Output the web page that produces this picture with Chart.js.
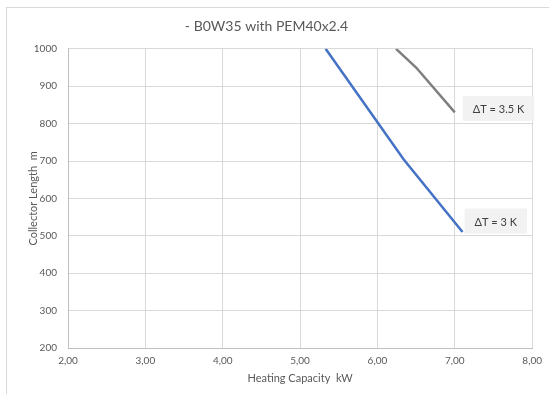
<!DOCTYPE html>
<html>
<head>
<meta charset="utf-8">
<title>B0W35 with PEM40x2.4</title>
<script src="https://cdn.jsdelivr.net/npm/chart.js@4.4.1/dist/chart.umd.min.js"></script>
<style>
    html, body { margin: 0; padding: 0; background: #fff; }
    #wrap { width: 549px; height: 394px; }
</style>
</head>
<body>
<div id="wrap"><canvas id="collector-chart" width="549" height="394"></canvas></div>
<script>
(function () {
    "use strict";

    // Data
    var capacity3K = [5.33, 6.34, 7.1];
    var length3K = [1000, 704, 510];
    var capacity35K = [6.24, 6.5, 7.0];
    var length35K = [1000, 950, 830];
    var seriesLabels = ["\u0394T = 3 K", "\u0394T = 3.5 K"];
    var xTicks = [2, 3, 4, 5, 6, 7, 8];
    var yTicks = [200, 300, 400, 500, 600, 700, 800, 900, 1000];

    var fontName = "Lato, 'Open Sans', sans-serif";
    var textGrey = "#595959";

    function toPoints(xs, ys) {
        return xs.map(function (x, i) {
            return { x: x, y: ys[i] };
        });
    }

    // outer chart frame (runs off the right/bottom edge like the reference)
    var framePlugin = {
        id: "frame",
        beforeDraw: function (chart) {
            var ctx = chart.ctx;
            ctx.save();
            ctx.strokeStyle = "#d9d9d9";
            ctx.lineWidth = 1;
            ctx.strokeRect(6.5, 7.5, 700, 500);
            ctx.restore();
        }
    };

    // boxed label next to the last point of every series
    var endLabelPlugin = {
        id: "endLabels",
        afterDatasetsDraw: function (chart) {
            var ctx = chart.ctx;
            ctx.save();
            ctx.font = "11px " + fontName;
            ctx.textBaseline = "middle";
            chart.data.datasets.forEach(function (ds, i) {
                var meta = chart.getDatasetMeta(i);
                var last = meta.data[meta.data.length - 1];
                var w = ctx.measureText(ds.label).width + 20;
                var h = 25;
                var bx = last.x + ds.labelDx;
                var by = last.y + ds.labelDy - h / 2;
                ctx.fillStyle = "#f2f2f2";
                ctx.fillRect(bx, by, w, h);
                ctx.fillStyle = "#404040";
                ctx.textAlign = "left";
                ctx.fillText(ds.label, bx + 10, by + h / 2 + 1);
            });
            ctx.restore();
        }
    };

    var ctx1 = document.getElementById("collector-chart").getContext("2d");
    var myChart1 = new Chart(ctx1, {
        type: "scatter",
        data: {
            datasets: [
                {
                    label: seriesLabels[0],
                    data: toPoints(capacity3K, length3K),
                    borderColor: "#4472c4",
                    borderWidth: 2.5,
                    showLine: true,
                    pointRadius: 0,
                    labelDx: 2,
                    labelDy: -11,
                },
                {
                    label: seriesLabels[1],
                    data: toPoints(capacity35K, length35K),
                    borderColor: "#7f7f7f",
                    borderWidth: 2.5,
                    showLine: true,
                    pointRadius: 0,
                    labelDx: 8,
                    labelDy: -4,
                },
            ],
        },
        options: {
            responsive: false,
            animation: false,
            layout: { padding: { left: 0, right: 16, top: 0, bottom: 0 } },
            plugins: {
                legend: { display: false },
                tooltip: { enabled: false },
                title: {
                    display: true,
                    text: "- B0W35 with PEM40x2.4",
                    color: textGrey,
                    font: { family: fontName, size: 14, weight: "normal" },
                    padding: { top: 18, bottom: 14 },
                },
            },
            scales: {
                x: {
                    type: "linear",
                    min: xTicks[0],
                    max: xTicks[xTicks.length - 1],
                    afterBuildTicks: function (scale) {
                        scale.ticks = xTicks.map(function (v) { return { value: v }; });
                    },
                    afterFit: function (scale) {
                        scale.height = 46;
                    },
                    grid: { color: "#d9d9d9", drawTicks: false },
                    border: { color: "#bfbfbf" },
                    ticks: {
                        color: textGrey,
                        font: { family: fontName, size: 10 },
                        padding: 7,
                        maxRotation: 0,
                        callback: function (v) {
                            return v.toFixed(2).replace(".", ",");
                        },
                    },
                    title: {
                        display: true,
                        text: "Heating Capacity  kW",
                        color: textGrey,
                        font: { family: fontName, size: 11 },
                        padding: { top: 9, bottom: 9 },
                    },
                },
                y: {
                    type: "linear",
                    min: yTicks[0],
                    max: yTicks[yTicks.length - 1],
                    afterBuildTicks: function (scale) {
                        scale.ticks = yTicks.map(function (v) { return { value: v }; });
                    },
                    afterFit: function (scale) {
                        scale.width = 68;
                    },
                    grid: { color: "#d9d9d9", drawTicks: false },
                    border: { color: "#bfbfbf" },
                    ticks: {
                        color: textGrey,
                        font: { family: fontName, size: 10 },
                        padding: 11,
                        callback: function (v) {
                            return String(v);
                        },
                    },
                    title: {
                        display: true,
                        text: "Collector Length  m",
                        color: textGrey,
                        font: { family: fontName, size: 11 },
                        padding: { top: 27, bottom: 0 },
                    },
                },
            },
        },
        plugins: [framePlugin, endLabelPlugin],
    });
})();
</script>
</body>
</html>
